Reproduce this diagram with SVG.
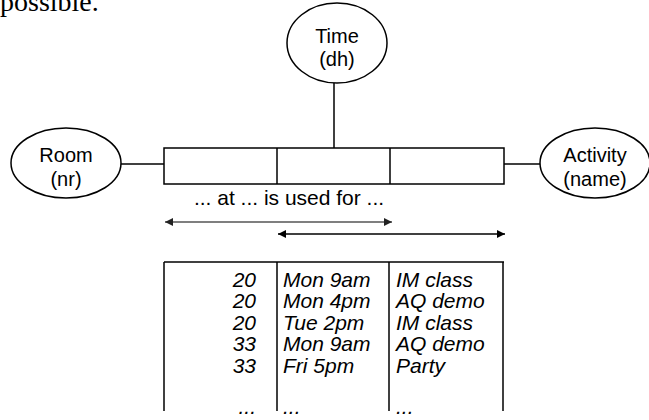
<svg xmlns="http://www.w3.org/2000/svg" width="649" height="420" viewBox="0 0 649 420">
<defs>
<style>
.ent{fill:#fff;stroke:#000;stroke-width:1.5}
.lbl{font-family:"Liberation Sans",Arial,sans-serif;font-size:20px;text-anchor:middle;fill:#000}
.ln{stroke:#000;stroke-width:1.5;fill:none}
.cell{font-family:"Liberation Sans",Arial,sans-serif;font-size:21px;font-style:italic;fill:#000}
</style>
<marker id="ah" viewBox="0 0 10 10" refX="10" refY="5" markerWidth="10" markerHeight="8" markerUnits="userSpaceOnUse" orient="auto-start-reverse">
<path d="M0,0 L10,5 L0,10 z" fill="#000"/>
</marker>
<marker id="ahg" viewBox="0 0 10 10" refX="10" refY="5" markerWidth="10" markerHeight="8" markerUnits="userSpaceOnUse" orient="auto-start-reverse">
<path d="M0,0 L10,5 L0,10 z" fill="#222"/>
</marker>
</defs>
<rect width="649" height="420" fill="#fff"/>
<text x="0" y="11" font-family="'Liberation Serif','Times New Roman',serif" font-size="28" fill="#000">possible.</text>
<g id="connectors">
<line class="ln" x1="334" y1="83" x2="334" y2="148"/>
<line class="ln" x1="121" y1="164" x2="164" y2="164"/>
<line class="ln" x1="504" y1="164" x2="540" y2="164"/>
<line x1="165" y1="222" x2="392" y2="222" stroke="#555" stroke-width="1.5" marker-start="url(#ahg)" marker-end="url(#ahg)"/>
<line x1="278" y1="234" x2="505" y2="234" stroke="#000" stroke-width="1.5" marker-start="url(#ah)" marker-end="url(#ah)"/>
</g>
<g id="time">
<ellipse class="ent" cx="337" cy="43" rx="50" ry="40"/>
<text class="lbl" x="337" y="43">Time</text>
<text class="lbl" x="337" y="66">(dh)</text>
</g>
<g id="room">
<ellipse class="ent" cx="66" cy="163" rx="55" ry="35"/>
<text class="lbl" x="66" y="162">Room</text>
<text class="lbl" x="66" y="186">(nr)</text>
</g>
<g id="activity">
<ellipse class="ent" cx="595" cy="163" rx="55" ry="35"/>
<text class="lbl" x="595" y="162">Activity</text>
<text class="lbl" x="595" y="186">(name)</text>
</g>
<g id="relation">
<rect class="ent" x="164" y="148" width="340" height="36"/>
<line class="ln" x1="277" y1="148" x2="277" y2="184"/>
<line class="ln" x1="390" y1="148" x2="390" y2="184"/>
<text class="lbl" x="289" y="205" style="font-size:21px">... at ... is used for ...</text>
</g>
<g id="table">
<line class="ln" x1="164" y1="262" x2="504" y2="262"/>
<line class="ln" x1="164" y1="262" x2="164" y2="411"/>
<line class="ln" x1="277" y1="262" x2="277" y2="411"/>
<line class="ln" x1="389" y1="262" x2="389" y2="411"/>
<line class="ln" x1="503" y1="262" x2="503" y2="411"/>
<g class="cell" text-anchor="end">
<text x="256" y="287">20</text>
<text x="256" y="308">20</text>
<text x="256" y="330">20</text>
<text x="256" y="351">33</text>
<text x="256" y="373">33</text>
<text x="256" y="414">...</text>
</g>
<g class="cell">
<text x="283" y="287">Mon 9am</text>
<text x="283" y="308">Mon 4pm</text>
<text x="283" y="330">Tue 2pm</text>
<text x="283" y="351">Mon 9am</text>
<text x="283" y="373">Fri 5pm</text>
<text x="283" y="414">...</text>
<text x="396" y="287">IM class</text>
<text x="396" y="308">AQ demo</text>
<text x="396" y="330">IM class</text>
<text x="396" y="351">AQ demo</text>
<text x="396" y="373">Party</text>
<text x="396" y="414">...</text>
</g>
</g>
</svg>
